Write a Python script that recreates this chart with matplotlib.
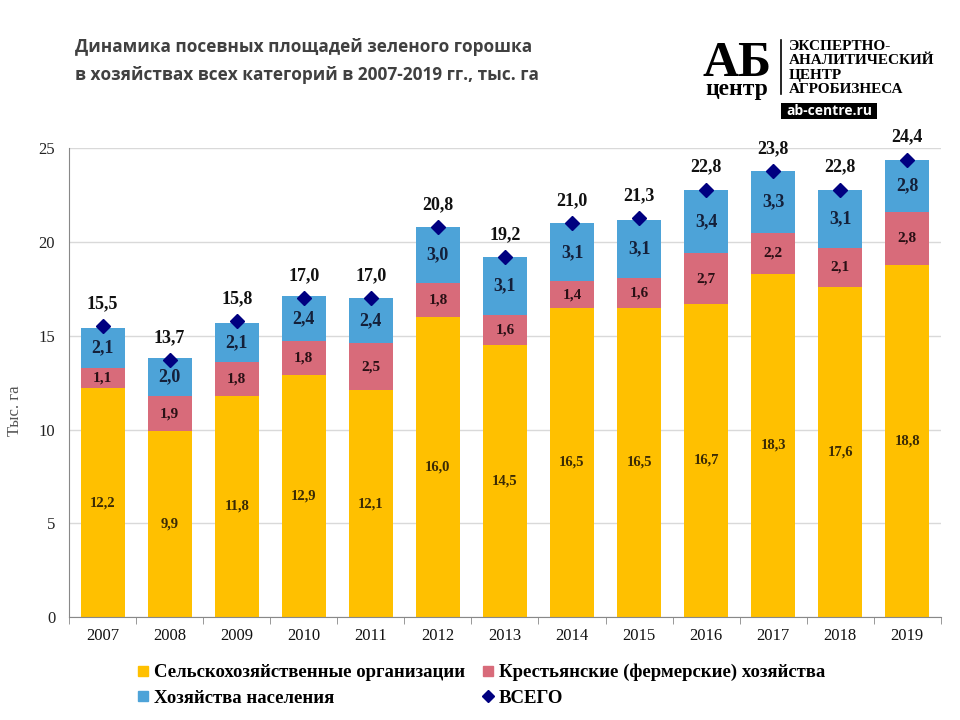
import matplotlib
matplotlib.use("Agg")
import matplotlib.pyplot as plt
from matplotlib.lines import Line2D
from matplotlib.patches import Rectangle
from matplotlib import font_manager
import numpy as np

years = ["2007", "2008", "2009", "2010", "2011", "2012", "2013",
         "2014", "2015", "2016", "2017", "2018", "2019"]
agri_orgs = [12.2, 9.9, 11.8, 12.9, 12.1, 16.0, 14.5, 16.5, 16.5, 16.7, 18.3, 17.6, 18.8]
farms = [1.1, 1.9, 1.8, 1.8, 2.5, 1.8, 1.6, 1.4, 1.6, 2.7, 2.2, 2.1, 2.8]
households = [2.1, 2.0, 2.1, 2.4, 2.4, 3.0, 3.1, 3.1, 3.1, 3.4, 3.3, 3.1, 2.8]
totals = [15.5, 13.7, 15.8, 17.0, 17.0, 20.8, 19.2, 21.0, 21.3, 22.8, 23.8, 22.8, 24.4]
yticks = [0, 5, 10, 15, 20, 25]

names = {f.name for f in font_manager.fontManager.ttflist}
serif = ["Liberation Serif", "DejaVu Serif"]
narrow = ["Liberation Sans Narrow", "Liberation Sans", "DejaVu Sans"] if "Liberation Sans Narrow" in names else ["Open Sans", "DejaVu Sans"]
title_size = 13.5 if "Liberation Sans Narrow" in names else 12.4

C_Y = "#FFC000"
C_R = "#D86B7A"
C_B = "#4DA3D8"
C_D = "#000080"

def fmt(v):
    return f"{v:.1f}".replace(".", ",")

fig = plt.figure(figsize=(9.6, 7.2), dpi=100)
ax = fig.add_axes([0.072, 0.143, 0.908, 0.651])

x = np.arange(len(years))
w = 0.66
b1 = np.array(agri_orgs)
b2 = b1 + np.array(farms)
ax.bar(x, agri_orgs, w, color=C_Y, zorder=2)
ax.bar(x, farms, w, bottom=b1, color=C_R, zorder=2)
ax.bar(x, households, w, bottom=b2, color=C_B, zorder=2)
ax.plot(x, totals, linestyle="none", marker="D", markersize=7, color=C_D, zorder=4)

for i in range(len(years)):
    ax.text(x[i], agri_orgs[i] / 2, fmt(agri_orgs[i]), ha="center", va="center",
            fontsize=10.5, fontweight="bold", family=serif, color="#3a2a05", zorder=5)
    ax.text(x[i], b1[i] + farms[i] / 2, fmt(farms[i]), ha="center", va="center",
            fontsize=11, fontweight="bold", family=serif, color="#2a1015", zorder=5)
    ax.text(x[i], b2[i] + households[i] / 2, fmt(households[i]), ha="center", va="center",
            fontsize=13, fontweight="bold", family=serif, color="#14203a", zorder=5)
    ax.annotate(fmt(totals[i]), (x[i], totals[i]), xytext=(0, 10), textcoords="offset points",
                ha="center", va="bottom", fontsize=13, fontweight="bold", family=serif,
                color="#111111", zorder=5)

ax.set_xlim(-0.5, len(years) - 0.5)
ax.set_ylim(0, 25)
ax.set_yticks(yticks)
ax.set_yticklabels([str(t) for t in yticks], family=serif, fontsize=12, color="#222222")
ax.set_xticks(x)
ax.set_xticklabels(years, family=serif, fontsize=12, color="#111111")
ax.tick_params(axis="x", length=0, pad=8)
ax.tick_params(axis="y", length=0, pad=10)
ax.set_xticks(np.arange(-0.5, len(years), 1), minor=True)
ax.tick_params(axis="x", which="minor", length=5, color="#888888", direction="out")
ax.grid(axis="y", color="#d9d9d9", linewidth=1, zorder=0)
ax.set_axisbelow(True)
for s in ["top", "right"]:
    ax.spines[s].set_visible(False)
ax.spines["left"].set_color("#888888")
ax.spines["bottom"].set_color("#888888")
ax.set_ylabel("Тыс. га", family=serif, fontsize=12, color="#555555")
ax.yaxis.set_label_coords(-0.053, 0.44)

handles = [
    Line2D([], [], linestyle="none", marker="s", markersize=7, color=C_Y),
    Line2D([], [], linestyle="none", marker="s", markersize=7, color=C_R),
    Line2D([], [], linestyle="none", marker="s", markersize=7, color=C_B),
    Line2D([], [], linestyle="none", marker="D", markersize=6, color=C_D),
]
labels = ["Сельскохозяйственные организации", "Крестьянские (фермерские) хозяйства",
          "Хозяйства населения", "ВСЕГО"]
order = [0, 2, 1, 3]
fig.legend([handles[i] for i in order], [labels[i] for i in order], ncol=2,
           loc="upper left", bbox_to_anchor=(0.143, 0.078), frameon=False,
           prop={"family": serif, "weight": "bold", "size": 13.5},
           handlelength=0.6, handletextpad=0.3, columnspacing=0.9, labelspacing=0.45,
           borderaxespad=0, borderpad=0)

fig.text(0.078, 0.935, "Динамика посевных площадей зеленого горошка", family=narrow,
         fontsize=title_size, fontweight="bold", color="#404040", ha="left", va="center")
fig.text(0.078, 0.896, "в хозяйствах всех категорий в 2007-2019 гг., тыс. га", family=narrow,
         fontsize=title_size, fontweight="bold", color="#404040", ha="left", va="center")

# Logo
fig.text(0.7675, 1 - 76 / 720, "АБ", family=serif, fontsize=36, fontweight="bold",
         color="black", ha="center", va="baseline")
fig.text(0.7675, 1 - 95 / 720, "центр", family=serif, fontsize=17, fontweight="bold",
         color="black", ha="center", va="baseline")
fig.add_artist(Line2D([781 / 960, 781 / 960], [1 - 94 / 720, 1 - 40 / 720],
                      transform=fig.transFigure, color="black", linewidth=1.2))
for k, t in enumerate(["ЭКСПЕРТНО-", "АНАЛИТИЧЕСКИЙ", "ЦЕНТР", "АГРОБИЗНЕСА"]):
    fig.text(789 / 960, 1 - (50 + k * 14.3) / 720, t, family=serif, fontsize=11,
             fontweight="bold", color="black", ha="left", va="baseline")
fig.add_artist(Rectangle((781 / 960, 1 - 119 / 720), 96 / 960, 16 / 720,
                         transform=fig.transFigure, facecolor="black", edgecolor="none"))
fig.text(829 / 960, 1 - 111 / 720, "ab-centre.ru", family=narrow, fontsize=10,
         fontweight="bold", color="white", ha="center", va="center")

fig.savefig("out.png", dpi=100)
